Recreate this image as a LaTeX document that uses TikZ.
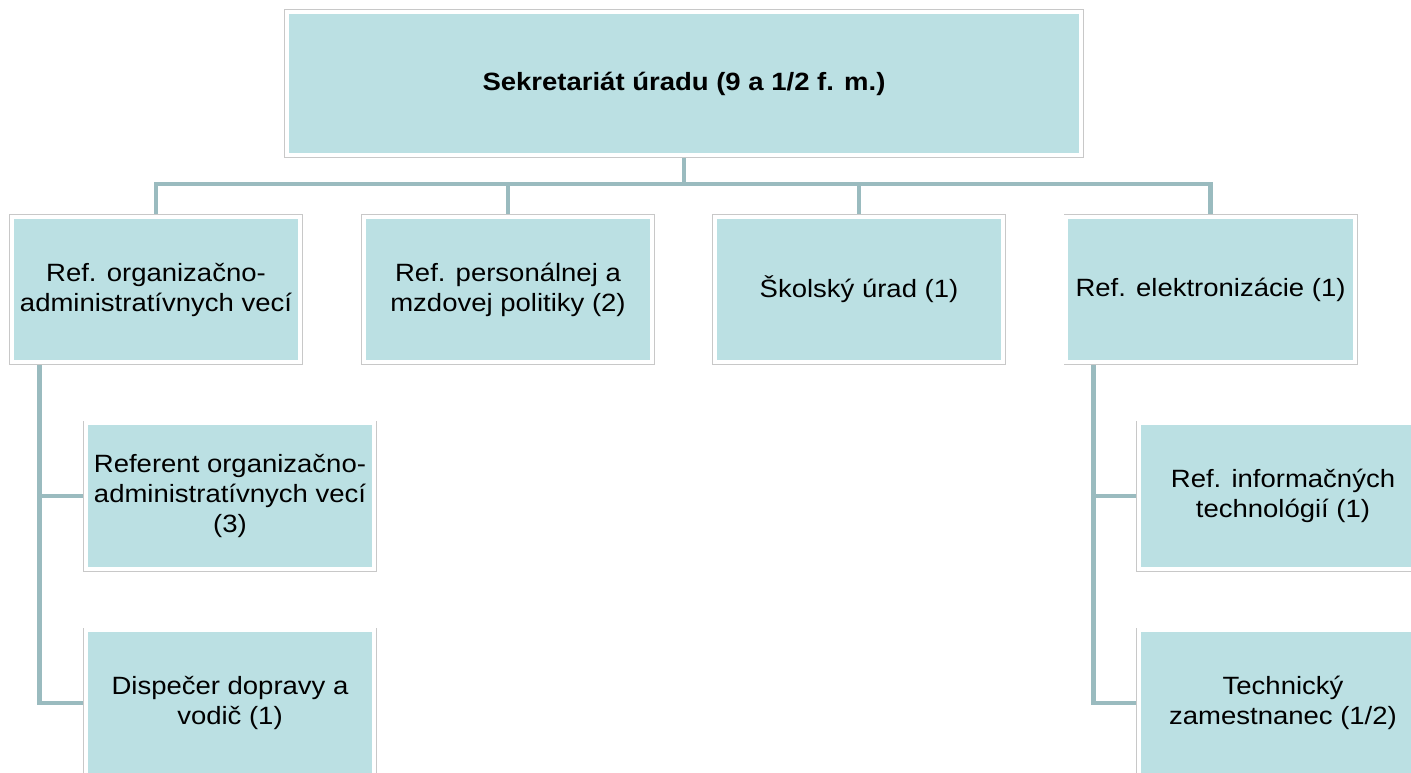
\documentclass[tikz,border=0pt]{standalone}
\usepackage{fontspec}
\setmainfont{Liberation Sans}[FakeStretch=1.1]
\usetikzlibrary{backgrounds}
\definecolor{boxfill}{RGB}{187,224,227}
\definecolor{framegray}{RGB}{200,200,200}
\definecolor{conncol}{RGB}{154,187,191}
\tikzset{
  ob/.style={fill=boxfill, draw=white, line width=4pt,
    preaction={draw=framegray, line width=5.5pt},
    minimum width=288.5pt, minimum height=145.5pt, inner sep=0pt,
    align=center, text=black, font=\fontsize{25}{30}\selectfont},
  topbox/.style={ob, minimum width=794.5pt, minimum height=143.5pt,
    font=\fontsize{25}{30}\selectfont\bfseries},
  conn/.style={draw=conncol, line width=4.5pt}
}
\begin{document}
\begin{tikzpicture}[x=1pt, y=-1pt]
\useasboundingbox (0,0) rectangle (1411,772);
\node[topbox] (top) at (684,83.5) {Sekretariát úradu (9 a 1/2 f. m.)};
\node[ob] (r1) at (156,289.5) {Ref. organizačno-\\administratívnych vecí};
\node[ob] (r2) at (508,289.5) {Ref. personálnej a\\mzdovej politiky (2)};
\node[ob] (r3) at (859,289.5) {Školský úrad (1)};
\node[ob] (r4) at (1210.5,289.5) {Ref. elektronizácie (1)};
\node[ob] (l1) at (230,496) {Referent organizačno-\\administratívnych vecí\\(3)};
\node[ob] (l2) at (230,703) {Dispečer dopravy a\\vodič (1)};
\node[ob] (e1) at (1283,496) {Ref. informačných\\technológií (1)};
\node[ob] (e2) at (1283,703) {Technický\\zamestnanec (1/2)};
\coordinate (bus) at (684,184);
\begin{pgfonlayer}{background}
\draw[conn] (top.south) -- (bus) -| (r1.north);
\draw[conn] (bus) -| (r2.north);
\draw[conn] (bus) -| (r3.north);
\draw[conn] (bus) -| (r4.north);
\draw[conn] ([xshift=29.5pt]r1.south west) |- (l1.west);
\draw[conn] ([xshift=29.5pt]r1.south west) |- (l2.west);
\draw[conn] ([xshift=29pt]r4.south west) |- (e1.west);
\draw[conn] ([xshift=29pt]r4.south west) |- (e2.west);
\end{pgfonlayer}
\end{tikzpicture}
\end{document}
